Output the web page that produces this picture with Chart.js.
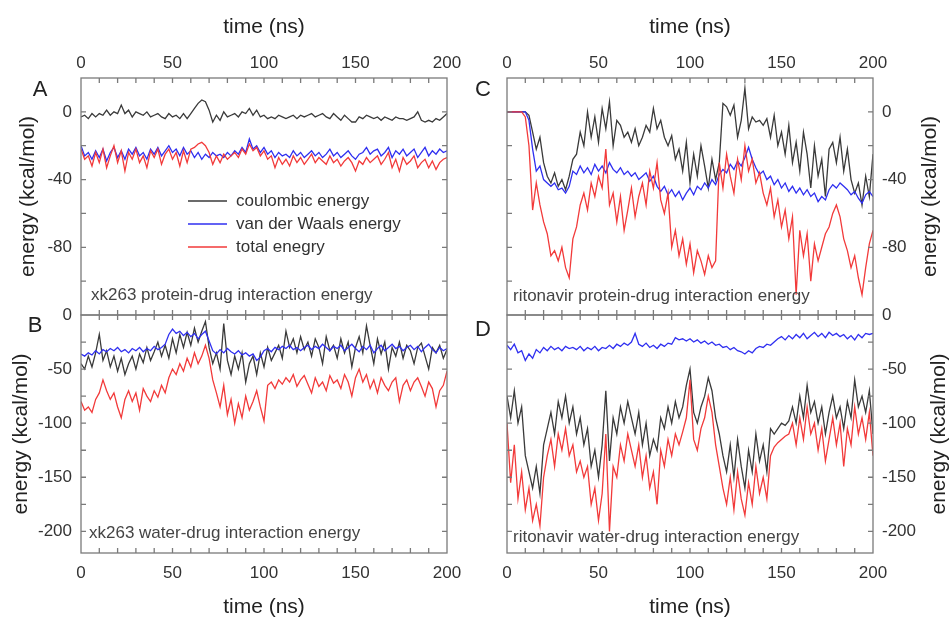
<!DOCTYPE html>
<html>
<head>
<meta charset="utf-8">
<title>Interaction energies</title>
<script src="https://cdn.jsdelivr.net/npm/chart.js@4.4.0/dist/chart.umd.min.js"></script>
<style>
  body { margin: 0; background: #fff; }
  #wrap { position: relative; width: 951px; height: 620px; }
  #wrap canvas { position: absolute; left: 0; top: 0; }
</style>
</head>
<body>
<div id="wrap">
  <canvas id="panelA" width="951" height="620"></canvas>
  <canvas id="panelB" width="951" height="620"></canvas>
  <canvas id="panelC" width="951" height="620"></canvas>
  <canvas id="panelD" width="951" height="620"></canvas>
</div>
<script>
// sampling grid, every 2 ns
var timeNs = [];
for (var t = 0; t <= 200; t += 2) timeNs.push(t);

const seriesNames = ['coulombic energy', 'van der Waals energy', 'total enegry'];
const xTickMinor = [10, 20, 30, 40, 50, 60, 70, 80, 90, 100, 110, 120, 130, 140, 150, 160, 170, 180, 190];

// A: xk263 protein-drug
const coulA = [-3,-2,-4,-1,-3,-1,-2,1,-2,0,
  -1,4,-1,1,-3,0,-1,-2,0,-3,
  -2,-1,-3,-4,-1,-3,-2,-4,-1,-4,
  -1,2,5,7,6,1,-6,-2,-5,0,
  -3,-2,-1,-3,0,-1,2,-2,1,-3,
  -2,-4,-3,-4,-2,-3,-4,-3,-2,-4,
  -2,-3,-2,-1,-3,-2,-1,-3,-4,-1,
  -3,-5,-2,-4,-6,-6,-3,-4,-2,-3,
  -4,-3,-5,-3,-4,-5,-3,-4,-4,-5,
  -4,-3,0,-5,-6,-5,-6,-4,-5,-3,-1];
const vdwA = [-20,-26,-24,-28,-23,-27,-22,-29,-24,-21,
  -27,-23,-28,-22,-25,-21,-26,-24,-28,-22,
  -25,-21,-26,-23,-20,-24,-22,-26,-21,-25,
  -23,-27,-24,-28,-25,-27,-24,-26,-25,-27,
  -24,-26,-23,-25,-21,-24,-16,-22,-20,-24,
  -21,-25,-23,-27,-24,-26,-25,-27,-23,-26,
  -24,-27,-25,-23,-26,-24,-27,-25,-22,-26,
  -24,-27,-25,-23,-26,-28,-25,-24,-21,-25,
  -23,-22,-26,-24,-21,-27,-23,-25,-22,-26,
  -24,-22,-27,-24,-21,-26,-23,-25,-22,-24,-23];
const totalA = [-22,-28,-26,-32,-24,-30,-22,-33,-26,-20,
  -30,-23,-35,-24,-28,-22,-30,-26,-33,-23,
  -27,-22,-31,-25,-22,-28,-24,-32,-23,-30,
  -22,-21,-19,-18,-20,-24,-31,-26,-30,-25,
  -28,-26,-24,-27,-22,-25,-19,-23,-21,-26,
  -23,-28,-26,-33,-27,-31,-28,-32,-26,-30,
  -27,-31,-28,-25,-30,-27,-29,-31,-26,-30,
  -28,-32,-29,-27,-30,-35,-29,-31,-27,-30,
  -28,-26,-31,-28,-24,-33,-28,-35,-27,-31,
  -29,-26,-33,-30,-28,-33,-29,-34,-30,-28,-27];

// B: xk263 water-drug
const coulB = [-45,-50,-38,-48,-35,-18,-42,-33,-48,-38,
  -52,-40,-55,-45,-38,-50,-36,-44,-30,-42,
  -34,-25,-38,-28,-40,-22,-35,-18,-30,-16,
  -28,-12,-25,-15,-6,-30,-45,-35,-50,-8,
  -42,-55,-38,-50,-35,-62,-45,-38,-55,-35,
  -48,-30,-42,-35,-28,-40,-15,-30,-22,-35,
  -20,-32,-25,-38,-22,-30,-45,-20,-33,-28,
  -40,-22,-35,-25,-48,-30,-20,-35,-10,-28,
  -45,-22,-36,-25,-50,-30,-38,-25,-40,-28,
  -33,-45,-30,-26,-38,-50,-30,-35,-28,-40,-32];
const vdwB = [-36,-38,-35,-37,-33,-36,-32,-34,-31,-33,
  -30,-34,-32,-35,-31,-33,-30,-34,-31,-33,
  -29,-32,-30,-27,-18,-13,-17,-15,-19,-16,
  -20,-17,-22,-18,-15,-24,-33,-36,-32,-35,
  -31,-34,-36,-33,-37,-35,-38,-36,-42,-39,
  -33,-31,-34,-30,-32,-29,-31,-28,-32,-30,
  -33,-30,-28,-32,-29,-31,-27,-30,-33,-29,
  -31,-28,-33,-30,-27,-31,-34,-29,-32,-28,
  -35,-31,-28,-33,-30,-27,-31,-29,-33,-30,
  -28,-32,-29,-34,-30,-27,-32,-35,-30,-33,-31];
const totalB = [-80,-88,-85,-90,-78,-72,-60,-70,-78,-72,
  -85,-95,-78,-70,-80,-72,-88,-68,-75,-80,
  -70,-76,-65,-72,-58,-50,-55,-45,-52,-40,
  -48,-35,-45,-38,-28,-40,-60,-72,-85,-65,
  -92,-78,-100,-82,-95,-75,-88,-80,-70,-85,
  -98,-65,-62,-68,-60,-64,-58,-62,-55,-66,
  -60,-56,-64,-72,-58,-66,-62,-70,-56,-63,
  -60,-68,-55,-62,-75,-58,-50,-62,-55,-68,
  -60,-72,-58,-65,-70,-62,-58,-80,-65,-60,
  -70,-62,-58,-66,-75,-62,-68,-85,-70,-65,-52];

// C: ritonavir protein-drug
const coulC = [0,0,0,0,0,0,-2,-12,-22,-15,
  -30,-38,-42,-36,-44,-40,-46,-38,-28,-25,
  -12,-20,0,-15,-3,-18,2,-10,6,-20,
  -5,-8,-15,-12,-18,-10,-20,-15,-8,-12,
  2,-10,-5,-15,-20,-14,-28,-22,-35,-18,
  -42,-25,-38,-20,-32,-45,-28,-40,-30,5,
  3,-2,4,-15,-5,14,-10,-3,-6,-5,
  -8,-4,-15,-2,-20,-12,-25,-8,-30,-18,
  -35,-12,-25,-45,-20,-38,-28,-50,-22,-18,
  -30,-15,-35,-22,-40,-48,-42,-55,-38,-50,-25];
const vdwC = [0,0,0,0,0,0,-5,-22,-35,-32,
  -40,-42,-44,-42,-46,-45,-48,-44,-35,-37,
  -32,-36,-33,-37,-31,-35,-32,-36,-30,-34,
  -36,-33,-37,-35,-38,-36,-40,-38,-36,-41,
  -38,-44,-47,-44,-49,-46,-50,-47,-52,-48,
  -45,-49,-44,-46,-42,-45,-40,-43,-37,-34,
  -36,-31,-34,-29,-32,-27,-21,-28,-33,-37,
  -35,-40,-38,-43,-40,-45,-42,-47,-44,-48,
  -45,-49,-46,-50,-48,-53,-50,-52,-46,-43,
  -45,-42,-44,-46,-49,-47,-51,-54,-49,-47,-50];
const totalC = [0,0,0,0,0,-3,-20,-58,-42,-55,
  -65,-72,-85,-82,-88,-80,-92,-98,-75,-68,
  -55,-48,-58,-42,-50,-38,-45,-22,-55,-48,
  -65,-50,-70,-58,-45,-62,-50,-42,-55,-35,
  -45,-30,-52,-60,-48,-80,-70,-85,-75,-90,
  -78,-95,-82,-88,-96,-85,-92,-88,-30,-45,
  -25,-38,-48,-28,-40,-20,-35,-28,-42,-36,
  -48,-55,-45,-62,-52,-68,-58,-75,-62,-108,
  -70,-85,-72,-100,-78,-88,-80,-72,-68,-60,
  -55,-62,-75,-82,-92,-85,-98,-108,-92,-78,-70];

// D: ritonavir water-drug
const coulD = [-75,-95,-70,-100,-85,-130,-145,-160,-140,-165,
  -120,-105,-90,-110,-80,-95,-75,-100,-85,-110,
  -95,-120,-105,-140,-125,-150,-120,-70,-135,-95,
  -110,-85,-100,-80,-95,-110,-90,-120,-100,-130,
  -115,-125,-95,-105,-85,-100,-80,-95,-85,-65,
  -50,-90,-100,-85,-75,-58,-70,-95,-110,-130,
  -145,-120,-150,-115,-140,-160,-125,-145,-110,-135,
  -120,-145,-105,-110,-105,-100,-102,-98,-85,-100,
  -75,-95,-65,-90,-80,-100,-85,-110,-90,-75,
  -95,-85,-105,-80,-95,-60,-85,-75,-90,-70,-110];
const vdwD = [-28,-32,-27,-35,-33,-42,-36,-40,-32,-35,
  -30,-33,-29,-32,-30,-33,-29,-31,-30,-32,
  -29,-33,-30,-32,-29,-33,-30,-31,-28,-31,
  -27,-29,-26,-28,-25,-17,-27,-29,-26,-30,
  -28,-31,-27,-29,-26,-27,-21,-23,-22,-24,
  -22,-25,-23,-26,-24,-27,-25,-28,-27,-30,
  -29,-32,-30,-33,-34,-36,-33,-35,-31,-29,
  -30,-27,-28,-25,-22,-20,-23,-19,-22,-18,
  -21,-17,-22,-19,-16,-20,-17,-21,-16,-19,
  -17,-20,-18,-22,-19,-23,-18,-21,-17,-18,-17];
const totalD = [-100,-155,-120,-170,-145,-180,-160,-190,-175,-195,
  -150,-130,-115,-140,-110,-125,-105,-130,-120,-145,
  -135,-150,-140,-175,-160,-190,-165,-110,-200,-140,
  -150,-120,-135,-110,-125,-140,-120,-150,-130,-160,
  -145,-175,-125,-140,-115,-130,-110,-120,-108,-95,
  -60,-115,-125,-105,-95,-75,-90,-120,-140,-160,
  -175,-150,-180,-145,-170,-185,-155,-175,-140,-165,
  -150,-170,-130,-122,-118,-115,-112,-110,-100,-120,
  -95,-115,-85,-110,-100,-125,-105,-135,-115,-95,
  -120,-100,-140,-105,-120,-85,-110,-95,-115,-90,-130];

const colors = { coul: '#3a3a3a', vdw: '#2f2ff0', total: '#f23a3a' };

Chart.defaults.font.family = '"Liberation Sans", Arial, sans-serif';
Chart.defaults.color = '#333';

function pts(vals) {
  return vals.map((v, i) => ({ x: timeNs[i], y: v }));
}

const decoPlugin = {
  id: 'deco',
  afterDatasetsDraw(chart, args, o) {
    const { ctx, chartArea: a, scales } = chart;
    const x = scales.x, y = scales.y;
    ctx.save();
    ctx.strokeStyle = '#7a7a7a';
    ctx.lineWidth = 1.3;
    ctx.strokeRect(a.left, a.top, a.right - a.left, a.bottom - a.top);
    ctx.beginPath();
    xTickMinor.forEach(v => {
      const px = x.getPixelForValue(v);
      ctx.moveTo(px, a.top); ctx.lineTo(px, a.top + 5);
      ctx.moveTo(px, a.bottom); ctx.lineTo(px, a.bottom - 5);
    });
    o.yMinor.forEach(v => {
      const py = y.getPixelForValue(v);
      ctx.moveTo(a.left, py); ctx.lineTo(a.left + 5, py);
      ctx.moveTo(a.right, py); ctx.lineTo(a.right - 5, py);
    });
    ctx.stroke();

    ctx.fillStyle = '#222';
    ctx.font = '22px "Liberation Sans", Arial, sans-serif';
    ctx.textAlign = 'center';
    ctx.textBaseline = 'middle';
    ctx.fillText(o.letter, o.letterX, o.letterY);

    ctx.fillStyle = '#444';
    ctx.font = '17px "Liberation Sans", Arial, sans-serif';
    ctx.textAlign = 'left';
    ctx.fillText(o.note, a.left + o.noteDx, o.noteY);

    if (o.legend) {
      const items = [chart.data.datasets[2], chart.data.datasets[1], chart.data.datasets[0]];
      items.forEach((ds, i) => {
        const ly = 201 + i * 23;
        ctx.strokeStyle = ds.borderColor;
        ctx.lineWidth = 1.4;
        ctx.beginPath();
        ctx.moveTo(188, ly); ctx.lineTo(227, ly);
        ctx.stroke();
        ctx.fillStyle = '#333';
        ctx.fillText(ds.label, 236, ly);
      });
    }

    if (o.rightTitle) {
      ctx.save();
      ctx.translate(o.rightTitleX, (a.top + a.bottom) / 2);
      ctx.rotate(-Math.PI / 2);
      ctx.fillStyle = '#222';
      ctx.font = '21px "Liberation Sans", Arial, sans-serif';
      ctx.textAlign = 'center';
      ctx.fillText('energy (kcal/mol)', 0, 0);
      ctx.restore();
    }
    ctx.restore();
  }
};

function makePanel(id, p) {
  const top = p.xPos === 'top';
  const left = p.yPos === 'left';
  return new Chart(document.getElementById(id), {
    type: 'line',
    data: {
      datasets: [
        { label: seriesNames[2], data: pts(p.total), borderColor: colors.total, order: 1 },
        { label: seriesNames[1], data: pts(p.vdw), borderColor: colors.vdw, order: 2 },
        { label: seriesNames[0], data: pts(p.coul), borderColor: colors.coul, order: 3 }
      ]
    },
    options: {
      responsive: false,
      animation: false,
      events: [],
      elements: { line: { borderWidth: 1.3, tension: 0 }, point: { radius: 0 } },
      layout: { padding: p.pad },
      plugins: { legend: { display: false }, tooltip: { enabled: false }, deco: p.deco },
      scales: {
        x: {
          type: 'linear', position: p.xPos, min: 0, max: 200,
          ticks: { stepSize: 50, padding: top ? 4 : 10, color: '#333', font: { size: 17 } },
          grid: { display: false, drawTicks: false },
          border: { display: false },
          title: { display: true, text: 'time (ns)', color: '#222', font: { size: 21 },
                   padding: top ? { top: 15, bottom: 0 } : { top: 0, bottom: 0 } },
          afterFit: s => { s.height = top ? 78 : 67; }
        },
        y: {
          type: 'linear', position: p.yPos, min: p.yMin, max: p.yMax,
          afterBuildTicks: s => { s.ticks = p.yLabels.map(v => ({ value: v })); },
          ticks: { padding: 9, color: '#333', font: { size: 17 } },
          grid: { display: false, drawTicks: false },
          border: { display: false },
          title: { display: left, text: 'energy (kcal/mol)', color: '#222', font: { size: 21 },
                   padding: { top: p.yTitlePad || 0, bottom: 0 } },
          afterFit: s => { s.width = left ? 81 : 78; }
        }
      }
    },
    plugins: [decoPlugin]
  });
}

makePanel('panelA', {
  coul: coulA, vdw: vdwA, total: totalA,
  xPos: 'top', yPos: 'left', yMin: -120, yMax: 20, yLabels: [0, -40, -80], yTitlePad: 16,
  pad: { left: 0, top: 0, right: 504, bottom: 305 },
  deco: { yMinor: [0, -20, -40, -60, -80, -100], letter: 'A', letterX: 40, letterY: 90,
          note: 'xk263 protein-drug interaction energy', noteDx: 10, noteY: 295, legend: true }
});
makePanel('panelB', {
  coul: coulB, vdw: vdwB, total: totalB,
  xPos: 'bottom', yPos: 'left', yMin: -220, yMax: 0, yLabels: [0, -50, -100, -150, -200], yTitlePad: 9,
  pad: { left: 0, top: 315, right: 504, bottom: 0 },
  deco: { yMinor: [-25, -50, -75, -100, -125, -150, -175, -200], letter: 'B', letterX: 35, letterY: 326,
          note: 'xk263 water-drug interaction energy', noteDx: 8, noteY: 533 }
});
makePanel('panelC', {
  coul: coulC, vdw: vdwC, total: totalC,
  xPos: 'top', yPos: 'right', yMin: -120, yMax: 20, yLabels: [0, -40, -80],
  pad: { left: 507, top: 0, right: 0, bottom: 305 },
  deco: { yMinor: [0, -20, -40, -60, -80, -100], letter: 'C', letterX: 483, letterY: 90,
          note: 'ritonavir protein-drug interaction energy', noteDx: 6, noteY: 296,
          rightTitle: true, rightTitleX: 930 }
});
makePanel('panelD', {
  coul: coulD, vdw: vdwD, total: totalD,
  xPos: 'bottom', yPos: 'right', yMin: -220, yMax: 0, yLabels: [0, -50, -100, -150, -200],
  pad: { left: 507, top: 315, right: 0, bottom: 0 },
  deco: { yMinor: [-25, -50, -75, -100, -125, -150, -175, -200], letter: 'D', letterX: 483, letterY: 330,
          note: 'ritonavir water-drug interaction energy', noteDx: 6, noteY: 537,
          rightTitle: true, rightTitleX: 939 }
});
</script>
</body>
</html>
